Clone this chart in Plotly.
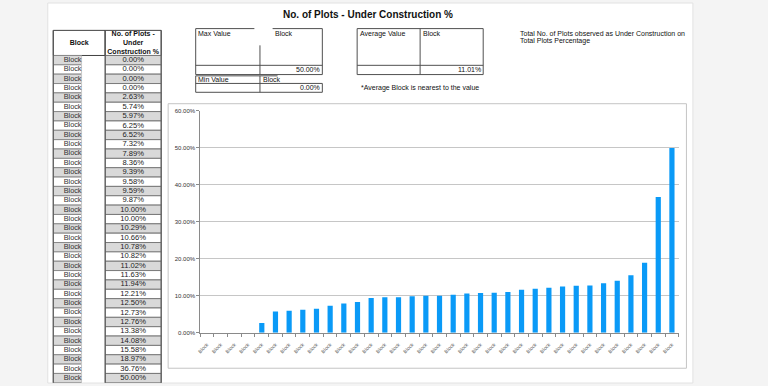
import plotly.graph_objects as go

W, H = 768, 386
def X(p): return p / W
def Y(p): return 1 - p / H

# ---------------- data ----------------
blocks = ["Block"] * 35
pct_values = [0.0000, 0.0000, 0.0000, 0.0000, 0.0263, 0.0574, 0.0597, 0.0625, 0.0652,
              0.0732, 0.0789, 0.0836, 0.0939, 0.0958, 0.0959, 0.0987, 0.1000, 0.1000,
              0.1029, 0.1066, 0.1078, 0.1082, 0.1102, 0.1163, 0.1194, 0.1221, 0.1250,
              0.1273, 0.1276, 0.1338, 0.1408, 0.1558, 0.1897, 0.3676, 0.5000]
max_value = 0.50
min_value = 0.00
avg_value = 0.1101
y_ticks = [0, 0.1, 0.2, 0.3, 0.4, 0.5, 0.6]
header_labels = ["<b>Block</b>", "<b>No. of Plots -<br>Under<br>Construction %</b>"]

FONT = "Liberation Sans, Arial, sans-serif"
BAR = "#0a9af7"
GREY_CELL = "#d9d9d9"

idx = list(range(len(pct_values)))
pct_text = [f"{v*100:.2f}%" for v in pct_values]
row_fill = [GREY_CELL if i % 2 == 0 else "white" for i in idx]

# table geometry (pixels; table axes are set up so 1 unit = 1 px)
T_LEFT, T_GAP_L, T_MID, T_RIGHT = 49.5, 78.0, 101.7, 158.0
HEAD_TOP, HEAD_H, ROW_H = 27.8, 25.5, 9.5
row_top = [HEAD_TOP + HEAD_H + ROW_H * i for i in idx]
row_mid = [t + ROW_H / 2 for t in row_top]
table_bottom = row_top[-1] + ROW_H

fig = go.Figure()

# chart bars
fig.add_trace(go.Bar(x=idx, y=pct_values, marker=dict(color=BAR, line=dict(width=0)),
                     width=0.38, hoverinfo="skip", showlegend=False))

# ---- spreadsheet table, drawn as cells (horizontal bars) on its own axes ----
head_mid = HEAD_TOP + HEAD_H / 2
fig.add_trace(go.Bar(orientation="h", xaxis="x2", yaxis="y2",
                     y=[head_mid, head_mid], base=[T_LEFT, T_MID],
                     x=[T_MID - T_LEFT, T_RIGHT - T_MID], width=HEAD_H,
                     marker=dict(color="white", line=dict(color="#404040", width=1)),
                     hoverinfo="skip", showlegend=False))
fig.add_trace(go.Bar(orientation="h", xaxis="x2", yaxis="y2",
                     y=row_mid, base=[T_LEFT] * len(idx), x=[T_GAP_L - T_LEFT] * len(idx),
                     width=ROW_H,
                     marker=dict(color=row_fill, line=dict(color="#8a8a8a", width=1)),
                     hoverinfo="skip", showlegend=False))
fig.add_trace(go.Bar(orientation="h", xaxis="x2", yaxis="y2",
                     y=row_mid, base=[T_MID] * len(idx), x=[T_RIGHT - T_MID] * len(idx),
                     width=ROW_H,
                     marker=dict(color=row_fill, line=dict(color="#7a7a7a", width=1)),
                     hoverinfo="skip", showlegend=False))
# soften the right edge of the block column (no border there in the sheet)
fig.add_trace(go.Scatter(xaxis="x2", yaxis="y2", mode="lines",
                         x=[T_GAP_L + 0.5, T_GAP_L + 0.5], y=[HEAD_TOP + HEAD_H + 0.6, table_bottom],
                         line=dict(color="white", width=1.2), hoverinfo="skip", showlegend=False))
# darker vertical borders
fig.add_trace(go.Scatter(xaxis="x2", yaxis="y2", mode="lines",
                         x=[T_LEFT, T_LEFT, None, T_MID, T_MID, None, T_RIGHT, T_RIGHT],
                         y=[HEAD_TOP, table_bottom, None, HEAD_TOP, table_bottom, None,
                            HEAD_TOP, table_bottom],
                         line=dict(color="#505050", width=1), hoverinfo="skip", showlegend=False))
# header text
fig.add_trace(go.Scatter(xaxis="x2", yaxis="y2", mode="text",
                         x=[(T_LEFT + T_MID) / 2, (T_MID + T_RIGHT) / 2], y=[head_mid + 0.5, head_mid + 0.5],
                         text=header_labels, textposition="middle center",
                         textfont=dict(family=FONT, size=7, color="#111"),
                         hoverinfo="skip", showlegend=False, cliponaxis=False))
# body text
fig.add_trace(go.Scatter(xaxis="x2", yaxis="y2", mode="text",
                         x=[T_LEFT + 10.5] * len(idx), y=row_mid, text=blocks,
                         textposition="middle right",
                         textfont=dict(family=FONT, size=7.3, color="#333"),
                         hoverinfo="skip", showlegend=False, cliponaxis=False))
fig.add_trace(go.Scatter(xaxis="x2", yaxis="y2", mode="text",
                         x=[(T_MID + T_RIGHT) / 2] * len(idx), y=row_mid, text=pct_text,
                         textposition="middle center",
                         textfont=dict(family=FONT, size=7.6, color="#222"),
                         hoverinfo="skip", showlegend=False, cliponaxis=False))

shapes = []
# page white area
shapes.append(dict(type="rect", xref="paper", yref="paper", x0=X(44), x1=X(692.5), y0=0, y1=1,
                   fillcolor="white", line=dict(color="#e2e2e2", width=1), layer="below"))
# chart border
shapes.append(dict(type="rect", xref="paper", yref="paper", x0=X(165), x1=X(686), y0=Y(371), y1=Y(102.3),
                   line=dict(color="#c4c4c4", width=1), layer="below"))

def line(x0, y0, x1, y1, color="#505050"):
    shapes.append(dict(type="line", xref="paper", yref="paper", x0=X(x0), x1=X(x1), y0=Y(y0), y1=Y(y1),
                       line=dict(color=color, width=1)))

# max box
line(192.7, 26, 251.7, 26); line(270, 26, 320, 26)
line(192.7, 26, 192.7, 72.7); line(320, 26, 320, 72.7)
line(192.7, 72.7, 320, 72.7); line(192.7, 63.3, 320, 63.3)
line(257.3, 43, 257.3, 72.7)
# average box
line(355, 26, 481.7, 26); line(355, 26, 355, 72.7); line(481.7, 26, 481.7, 72.7)
line(355, 72.7, 481.7, 72.7); line(355, 63.3, 481.7, 63.3)
line(418.3, 26, 418.3, 72.7)
# min box
line(192.7, 74, 275, 74); line(192.7, 74, 192.7, 90.7)
line(192.7, 81.7, 320, 81.7); line(192.7, 90.7, 320, 90.7)
line(320, 81.7, 320, 90.7); line(257.3, 74, 257.3, 90.7)

def ann(text, x, y, xanchor="left", size=7, bold=False):
    return dict(text=f"<b>{text}</b>" if bold else text, x=X(x), y=Y(y), xref="paper", yref="paper",
                xanchor=xanchor, yanchor="middle", showarrow=False,
                font=dict(family=FONT, size=size, color="#111"))

annotations = [
    ann("No. of Plots - Under Construction %", 366, 12, "center", 10, True),
    ann("Max Value", 193.5, 31),
    ann("Block", 270.5, 31),
    ann(f"{max_value*100:.2f}%", 319.5, 67.8, "right"),
    ann("Average Value", 356, 31),
    ann("Block", 419.5, 31),
    ann(f"{avg_value*100:.2f}%", 481.2, 67.8, "right"),
    ann("Min Value", 193.5, 77.5),
    ann("Block", 258, 77.5),
    ann(f"{min_value*100:.2f}%", 319.5, 86.3, "right"),
    ann("*Average Block is nearest to the value", 357, 86.5),
    ann("Total No. of Plots observed as Under Construction on", 516.5, 31),
    ann("Total Plots Percentage", 516.5, 39),
]

TX0, TX1, TY0 = 47.0, 160.0, 25.0
fig.update_layout(
    width=W, height=H, margin=dict(l=0, r=0, t=0, b=0),
    paper_bgcolor="#f4f4f4", plot_bgcolor="rgba(0,0,0,0)",
    font=dict(family=FONT, color="#222"),
    shapes=shapes, annotations=annotations, showlegend=False,
    barmode="overlay",
    xaxis=dict(domain=[X(197.3), X(678.3)], range=[-0.5, len(idx) - 0.5],
               tickmode="array", tickvals=idx, ticktext=blocks, tickangle=-45,
               tickfont=dict(size=5, color="#555"), showgrid=False, zeroline=False,
               showline=True, linecolor="#8a8a8a", linewidth=1, ticks="",
               ticklabelstandoff=6,
               minor=dict(tickmode="array", tickvals=[i - 0.5 for i in range(len(idx) + 1)],
                          ticks="outside", ticklen=3, tickcolor="#8a8a8a", showgrid=False),
               fixedrange=True),
    yaxis=dict(domain=[Y(335), Y(109.7)], range=[0, 0.6], tickmode="array", tickvals=y_ticks,
               tickformat=".2%", tickfont=dict(size=6, color="#333"),
               showgrid=True, gridcolor="#c6c6c6", gridwidth=1, zeroline=False,
               showline=True, linecolor="#8a8a8a", linewidth=1,
               ticks="outside", ticklen=3, tickcolor="#8a8a8a", fixedrange=True),
    xaxis2=dict(domain=[X(TX0), X(TX1)], range=[TX0, TX1], visible=False, fixedrange=True),
    yaxis2=dict(domain=[0, Y(TY0)], range=[H, TY0], visible=False, fixedrange=True),
)

fig.write_html("out.html", config={"displayModeBar": False},
               post_script="document.body.style.margin='0px';")
